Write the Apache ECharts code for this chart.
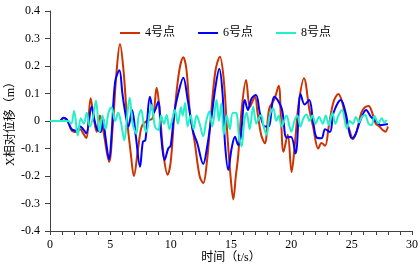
<!DOCTYPE html>
<html>
<head>
<meta charset="utf-8">
<script src="https://cdn.jsdelivr.net/npm/echarts@6/dist/echarts.min.js"></script>
<style>
  html, body { margin: 0; padding: 0; background: #fff; }
  #chart { width: 420px; height: 267px; }
</style>
</head>
<body>
<div id="chart"></div>
<script>
// 图例名称
const NAMES = ['4号点', '6号点', '8号点'];
const COLORS = ['#CC3300', '#0000FF', '#22F0C8'];

// [时间 t/s, 相对位移 m]
const p4 = [
  [0, 0], [0.8, 0], [1.1, 0.01], [1.4, 0.005], [1.8, -0.035], [2.2, -0.04], [2.5, -0.03], [2.75, -0.045],
  [3.0, -0.062], [3.37, 0.083], [3.6, 0.02], [3.87, -0.04], [4.14, 0.02], [4.4, -0.03], [4.9, -0.148],
  [5.2, -0.02], [5.5, 0.17], [5.8, 0.28], [6.1, 0.18], [6.4, 0.0], [6.7, -0.12], [6.95, -0.2], [7.3, -0.1],
  [7.6, -0.02], [8.0, 0.0], [8.5, 0.01], [8.84, 0.121], [9.1, 0.03], [9.4, -0.12], [9.75, -0.195],
  [10.0, -0.15], [10.3, 0.02], [10.7, 0.18], [11.05, 0.232], [11.3, 0.19], [11.6, 0.03], [12.0, -0.08],
  [12.4, -0.2], [12.7, -0.226], [13.0, -0.15], [13.3, 0.0], [13.7, 0.18], [14.08, 0.234], [14.4, 0.15],
  [14.7, -0.05], [15.0, -0.22], [15.19, -0.285], [15.4, -0.2], [15.6, -0.124], [15.9, 0.05], [16.25, 0.149],
  [16.57, 0.052], [16.98, 0.088], [17.2, 0.03], [17.5, -0.05], [17.8, -0.081], [18.17, 0.046], [18.6, 0.08],
  [18.95, 0.128], [19.15, 0.0], [19.35, -0.112], [19.7, -0.05], [20.02, -0.185], [20.3, -0.08], [20.6, 0.06],
  [21.05, 0.155], [21.5, 0.04], [21.8, -0.02], [22.23, -0.1], [22.5, -0.08], [22.8, -0.09], [23.1, -0.02],
  [23.5, 0.07], [23.9, 0.098], [24.2, 0.07], [24.6, -0.008], [24.8, -0.03], [25.1, -0.066], [25.4, -0.04],
  [25.8, 0.03], [26.1, 0.05], [26.4, 0.055], [26.7, 0.03], [27.0, -0.01], [27.3, -0.02], [27.6, -0.034],
  [27.8, -0.039], [28.0, -0.02]
];

const p6 = [
  [0, 0], [0.8, 0], [1.1, 0.012], [1.4, 0.005], [1.8, -0.03], [2.2, -0.035], [2.5, -0.02], [2.75, -0.03],
  [3.0, -0.045], [3.45, 0.052], [3.7, 0.0], [3.9, -0.03], [4.2, -0.04], [4.4, 0.01], [4.6, -0.06],
  [4.9, -0.14], [5.1, -0.05], [5.4, 0.143], [5.75, 0.185], [6.0, 0.1], [6.2, 0.04], [6.5, -0.02], [6.8, 0.04],
  [7.1, -0.05], [7.46, -0.166], [7.7, -0.075], [7.9, -0.07], [8.05, 0.0], [8.28, 0.088], [8.6, 0.03],
  [8.97, 0.07], [9.2, -0.05], [9.5, -0.142], [9.8, -0.1], [10.0, -0.09], [10.3, 0.03], [10.6, 0.095],
  [11.05, 0.157], [11.4, 0.08], [11.87, -0.04], [12.2, -0.08], [12.7, -0.156], [13.0, -0.1], [13.4, 0.02],
  [13.7, 0.12], [14.03, 0.19], [14.3, 0.1], [14.5, -0.08], [14.77, -0.178], [15.05, -0.1], [15.33, -0.057],
  [15.6, -0.087], [15.8, -0.06], [16.15, 0.076], [16.4, 0.04], [16.7, 0.082], [17.07, 0.095], [17.4, 0.028],
  [17.8, -0.02], [18.1, -0.02], [18.6, 0.088], [19.2, 0.046], [19.6, -0.06], [19.97, -0.057], [20.35, -0.118],
  [20.77, 0.098], [21.1, 0.06], [21.48, 0.076], [21.8, 0.0], [22.1, -0.06], [22.5, -0.063], [22.8, -0.03],
  [23.2, -0.04], [23.5, 0.03], [24.1, 0.076], [24.5, 0.03], [24.8, -0.04], [25.0, -0.063], [25.3, -0.05],
  [25.7, 0.0], [26.2, 0.04], [26.6, 0.015], [27.0, 0.0], [27.4, -0.015], [28.0, -0.011]
];

const p8 = [
  [0, 0], [1.5, 0], [1.75, -0.01], [2.0, 0.036], [2.3, -0.053], [2.55, 0.01], [2.8, -0.01], [3.05, 0.03],
  [3.3, -0.02], [3.55, 0.01], [3.81, 0.074], [4.1, -0.04], [4.35, 0.02], [4.6, -0.03], [4.85, 0.03],
  [5.1, 0.05], [5.4, 0.0], [5.65, 0.03], [5.9, -0.01], [6.16, -0.07], [6.4, 0.02], [6.6, 0.085],
  [6.85, -0.01], [7.15, -0.045], [7.35, 0.02], [7.55, 0.04], [7.8, -0.02], [8.0, -0.039], [8.2, 0.01],
  [8.42, 0.058], [8.7, -0.02], [8.97, -0.033], [9.2, 0.02], [9.45, -0.01], [9.67, 0.022], [9.9, -0.03],
  [10.1, 0.0], [10.35, 0.04], [10.6, -0.01], [10.85, 0.05], [11.0, 0.02], [11.2, 0.066], [11.4, -0.02],
  [11.65, 0.02], [11.9, -0.03], [12.15, 0.02], [12.4, -0.01], [12.7, -0.055], [12.95, 0.0], [13.2, 0.035],
  [13.45, -0.02], [13.8, 0.076], [14.0, 0.0], [14.2, 0.064], [14.4, -0.05], [14.65, 0.02], [14.9, -0.03],
  [15.15, 0.03], [15.45, 0.028], [15.65, -0.05], [15.88, -0.092], [16.1, 0.0], [16.3, 0.03], [16.55, -0.03],
  [16.84, 0.052], [17.1, -0.01], [17.3, 0.01], [17.5, 0.022], [17.7, -0.02], [17.95, -0.05], [18.2, 0.02],
  [18.5, 0.046], [18.75, 0.0], [18.95, 0.02], [19.2, -0.02], [19.6, 0.02], [19.85, -0.02], [20.0, -0.039],
  [20.25, 0.0], [20.5, 0.02], [20.75, -0.02], [21.0, 0.01], [21.27, 0.024], [21.5, 0.0], [21.75, 0.02],
  [22.0, -0.01], [22.3, 0.015], [22.6, -0.01], [22.85, 0.02], [23.1, -0.015], [23.4, 0.03], [23.65, -0.01],
  [23.9, 0.02], [24.2, 0.04], [24.6, -0.027], [24.85, 0.0], [25.1, -0.01], [25.35, 0.015], [25.6, -0.005],
  [25.85, 0.015], [26.1, 0.022], [26.4, -0.01], [26.65, -0.015], [26.9, 0.018], [27.2, -0.008], [27.5, 0.01],
  [27.7, -0.005], [27.9, 0.004]
];

const SERIES_DATA = [p4, p6, p8];
const FONT = '"Liberation Serif", "Noto Sans CJK SC", serif';
const AXIS_COLOR = '#404040';

const chart = echarts.init(document.getElementById('chart'), null, { renderer: 'canvas' });

chart.setOption({
  backgroundColor: '#fff',
  animation: false,
  textStyle: { fontFamily: FONT, color: '#000' },
  legend: {
    top: 22, left: 115,
    icon: 'rect', itemWidth: 20, itemHeight: 2, itemGap: 23,
    textStyle: { fontFamily: FONT, fontSize: 12, color: '#000' },
    data: NAMES,
  },
  grid: { left: 50, right: 8, top: 11, bottom: 36, containLabel: false, outerBoundsMode: 'none' },
  xAxis: {
    type: 'value', min: 0, max: 30, interval: 5,
    name: '时间（t/s）', nameLocation: 'middle', nameGap: 21, nameMoveOverlap: false,
    nameTextStyle: { fontFamily: FONT, fontSize: 12, color: '#000' },
    axisLine: { onZero: false, lineStyle: { color: AXIS_COLOR, width: 1 } },
    axisTick: { show: true, length: 4, lineStyle: { color: AXIS_COLOR } },
    minorTick: { show: true, splitNumber: 5, length: 4, lineStyle: { color: AXIS_COLOR } },
    axisLabel: { fontFamily: FONT, fontSize: 12, color: '#000', margin: 8 },
    splitLine: { show: false },
  },
  yAxis: {
    type: 'value', min: -0.4, max: 0.4, interval: 0.1,
    name: 'X相对位移（m）', nameLocation: 'middle', nameGap: 33, nameRotate: 90, nameMoveOverlap: false,
    nameTextStyle: { fontFamily: FONT, fontSize: 12, color: '#000' },
    axisLine: { show: true, onZero: false, lineStyle: { color: AXIS_COLOR, width: 1 } },
    axisTick: { show: true, length: 5, lineStyle: { color: AXIS_COLOR } },
    axisLabel: { fontFamily: FONT, fontSize: 12, color: '#000', margin: 10,
      formatter: v => (Math.abs(v) < 1e-9 ? '0' : (+v.toFixed(1)).toString()) },
    splitLine: { show: false },
  },
  series: SERIES_DATA.map((d, i) => ({
    name: NAMES[i],
    type: 'line',
    data: d,
    symbol: 'none',
    smooth: 0.35,
    lineStyle: { color: COLORS[i], width: 2 },
    itemStyle: { color: COLORS[i] },
  })),
});
</script>
</body>
</html>
